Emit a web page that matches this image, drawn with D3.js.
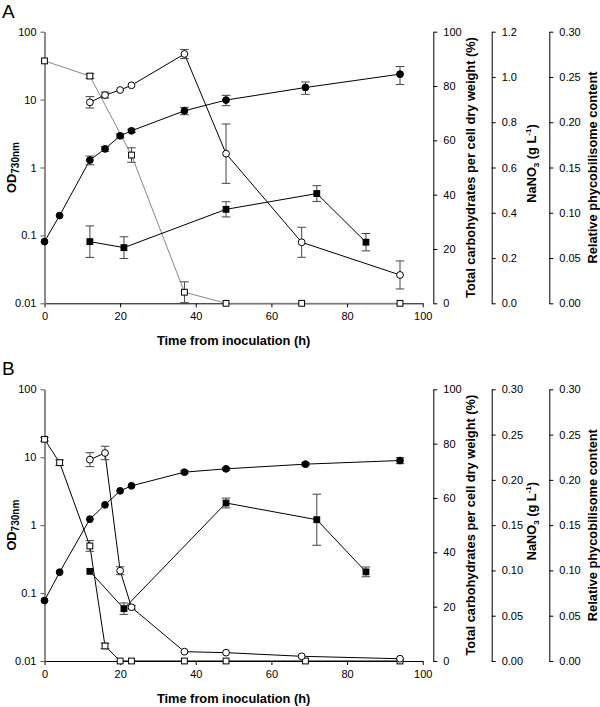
<!DOCTYPE html>
<html><head><meta charset="utf-8">
<script src="https://cdn.jsdelivr.net/npm/d3@7"></script>
<style>body{margin:0;background:#fff;} svg{display:block;font-family:"Liberation Sans",Arial,sans-serif;}</style>
</head><body>
<svg id="chart" width="600" height="707"></svg>
<script>
// ---------- DATA ----------
// Panel A
const timeA_od = [0,4,12,16,20,23,37,48,69,94];
const odA      = [0.081,0.196,1.285,1.88,2.93,3.47,6.84,9.84,15.07,23.7];
const odA_err  = [0,0,0.19,0.15,0.2,0.2,0.85,1.7,3.1,7.0];
const timeA_phy = [12,16,20,23,37,48,68,94];
const phyA      = [0.222,0.230,0.2356,0.2408,0.2754,0.1653,0.0674,0.0313];
const phyA_err  = [0.0063,0.0033,0,0,0.005,0.0328,0.0166,0.0155];
const timeA_carb = [12,21,48,72,85];
const carbA      = [22.7,20.5,34.6,40.4,22.5];
const carbA_err  = [5.8,4.0,2.8,2.9,3.2];
const timeA_n = [0,12,23,37,48,68,94];
const nA      = [1.071,1.004,0.655,0.049,0,0,0];
const nA_err  = [0,0.01,0.032,0.046,0,0,0];
// Panel B
const timeB_od = [0,4,12,16,20,23,37,48,69,94];
const odB      = [0.0776,0.203,1.225,1.99,3.20,3.79,6.03,6.75,7.91,8.94];
const odB_err  = [0,0,0,0,0,0,0.3,0.3,0.4,0.9];
const timeB_phy = [12,16,20,23,37,48,68,94];
const phyB      = [0.2223,0.2297,0.0997,0.0593,0.0103,0.0092,0.0052,0.0025];
const phyB_err  = [0.0077,0.0074,0.0044,0.002,0,0,0,0];
const timeB_carb = [12,21,48,72,85];
const carbB      = [33.0,19.25,58.15,52.0,32.8];
const carbB_err  = [0,2.1,1.8,9.4,1.8];
const timeB_n = [0,4,12,16,20,23,37,48,69,94];
const nB      = [0.2448,0.219,0.127,0.0166,0,0,0,0,0,0];
const nB_err  = [0.002,0.003,0.0059,0.003,0,0,0,0,0,0];

// Tick values
const xTicks = [0,20,40,60,80,100];
const odTicks = [0.01,0.1,1,10,100];
const odTickLabels = ["0.01","0.1","1","10","100"];
const carbTicks = [0,20,40,60,80,100];
const nTicksA = [0,0.2,0.4,0.6,0.8,1.0,1.2];
const nTicksB = [0,0.05,0.10,0.15,0.20,0.25,0.30];
const phyTicks = [0,0.05,0.10,0.15,0.20,0.25,0.30];

// ---------- DRAW ----------
const svg = d3.select("#chart");
const X0 = 44.5, X1 = 422.7;
const AX_CARB = 433.3, AX_N = 491.7, AX_P = 549.3;

function panel(cfg){
  const g = svg.append("g");
  const x = d3.scaleLinear().domain([0,100]).range([X0,X1]);
  const yOD = d3.scaleLog().domain([0.01,100]).range([cfg.bottom,cfg.top]);
  const yC = d3.scaleLinear().domain([0,100]).range([cfg.bottom,cfg.top]);
  const yN = d3.scaleLinear().domain([0,cfg.nMax]).range([cfg.bottom,cfg.top]);
  const yP = d3.scaleLinear().domain([0,0.30]).range([cfg.bottom,cfg.top]);

  // x axis
  const xa = g.append("g").attr("transform",`translate(0,${cfg.bottom})`)
    .call(d3.axisBottom(x).tickValues(xTicks).tickSize(4).tickSizeOuter(0).tickPadding(5));
  xa.select(".domain").attr("stroke","#000");
  xa.selectAll("text").attr("font-size",11).attr("fill","#000");

  // left log axis
  const ya = g.append("g").attr("transform",`translate(${X0},0)`)
    .call(d3.axisLeft(yOD).tickValues(odTicks).tickFormat((d,i)=>odTickLabels[i]).tickSize(4).tickSizeOuter(0).tickPadding(4));
  ya.select(".domain").attr("stroke","#8c8c8c").attr("stroke-width",2);
  ya.selectAll(".tick line").attr("stroke","#555");
  ya.selectAll("text").attr("font-size",11).attr("fill","#000");

  // right axes
  function rAxis(pos, scale, ticks, fmt){
    const a = g.append("g").attr("transform",`translate(${pos},0)`)
      .call(d3.axisRight(scale).tickValues(ticks).tickFormat(fmt).tickSize(4).tickSizeOuter(0).tickPadding(6));
    a.selectAll("text").attr("font-size",11).attr("fill","#000");
  }
  rAxis(AX_CARB, yC, carbTicks, d3.format("d"));
  rAxis(AX_N, yN, cfg.nTicks, d3.format(cfg.nFmt));
  rAxis(AX_P, yP, phyTicks, d3.format(".2f"));

  // series
  function series(t, v, e, y, shape, fill, lineColor){
    const pts = t.map((d,i)=>({t:d,v:v[i],e:e[i]}));
    const line = d3.line().x(d=>x(d.t)).y(d=>y(Math.max(d.v, y.domain()[0])));
    g.append("path").datum(pts).attr("d",line).attr("fill","none")
      .attr("stroke",lineColor).attr("stroke-width",1);
    const eb = g.append("g").attr("stroke","#444").attr("stroke-width",1);
    pts.filter(d=>d.e>0).forEach(d=>{
      const lo = Math.max(d.v-d.e, y.domain()[0] + (y.domain()[0]>0?0:0));
      const yl = Math.min(y(Math.max(d.v-d.e, y.domain()[0])), cfg.bottom);
      const yh = y(d.v+d.e);
      const cx = x(d.t);
      eb.append("line").attr("x1",cx).attr("x2",cx).attr("y1",yh).attr("y2",yl);
      eb.append("line").attr("x1",cx-4.3).attr("x2",cx+4.3).attr("y1",yh).attr("y2",yh);
      if (yl < cfg.bottom - 0.5)
        eb.append("line").attr("x1",cx-4.3).attr("x2",cx+4.3).attr("y1",yl).attr("y2",yl);
    });
    const m = g.append("g");
    pts.forEach(d=>{
      const cx = x(d.t), cy = y(Math.max(d.v, y.domain()[0]));
      if (shape==="circle") m.append("circle").attr("cx",cx).attr("cy",cy).attr("r",3.4)
        .attr("fill",fill).attr("stroke","#000").attr("stroke-width",1);
      else m.append("rect").attr("x",cx-2.9).attr("y",cy-2.9).attr("width",5.8).attr("height",5.8)
        .attr("fill",fill).attr("stroke","#000").attr("stroke-width",1);
    });
  }
  series(cfg.nT, cfg.n, cfg.nE, yN, "rect", "#fff", cfg.nLine);
  series(cfg.cT, cfg.c, cfg.cE, yC, "rect", "#000", "#000");
  series(cfg.pT, cfg.p, cfg.pE, yP, "circle", "#fff", "#000");
  series(cfg.oT, cfg.o, cfg.oE, yOD, "circle", "#000", "#000");

  // labels
  const mid = (cfg.top+cfg.bottom)/2;
  g.append("text").attr("x",2).attr("y",cfg.top-14).attr("font-size",19).text(cfg.label);
  g.append("text").attr("x",(X0+X1)/2).attr("y",cfg.bottom+42).attr("text-anchor","middle")
    .attr("font-size",12.8).attr("font-weight","bold").text("Time from inoculation (h)");
  const od = g.append("text").attr("transform",`translate(16,${mid}) rotate(-90)`)
    .attr("text-anchor","middle").attr("font-size",12.8).attr("font-weight","bold");
  od.append("tspan").text("OD");
  od.append("tspan").attr("font-size",10).attr("dy",3).text("730nm");
  g.append("text").attr("transform",`translate(474.5,${mid}) rotate(-90)`)
    .attr("text-anchor","middle").attr("font-size",12.8).attr("font-weight","bold")
    .text("Total carbohydrates per cell dry weight (%)");
  const nt = g.append("text").attr("transform",`translate(536,${mid-4}) rotate(-90)`)
    .attr("text-anchor","middle").attr("font-size",12.8).attr("font-weight","bold");
  nt.append("tspan").text("NaNO");
  nt.append("tspan").attr("font-size",8).attr("dy",3).text("3");
  nt.append("tspan").attr("dy",-3).text(" (g L");
  nt.append("tspan").attr("font-size",8).attr("dy",-5).text("-1");
  nt.append("tspan").attr("dy",5).text(")");
  g.append("text").attr("transform",`translate(596.5,${mid}) rotate(-90)`)
    .attr("text-anchor","middle").attr("font-size",12.8).attr("font-weight","bold")
    .text("Relative phycobilisome content");
}

panel({top:31.7,bottom:303.3,label:"A",nMax:1.2,nTicks:nTicksA,nFmt:".1f",nLine:"#888",
  oT:timeA_od,o:odA,oE:odA_err,pT:timeA_phy,p:phyA,pE:phyA_err,
  cT:timeA_carb,c:carbA,cE:carbA_err,nT:timeA_n,n:nA,nE:nA_err});
panel({top:389.3,bottom:661,label:"B",nMax:0.30,nTicks:nTicksB,nFmt:".2f",nLine:"#000",
  oT:timeB_od,o:odB,oE:odB_err,pT:timeB_phy,p:phyB,pE:phyB_err,
  cT:timeB_carb,c:carbB,cE:carbB_err,nT:timeB_n,n:nB,nE:nB_err});
</script>
</body></html>
